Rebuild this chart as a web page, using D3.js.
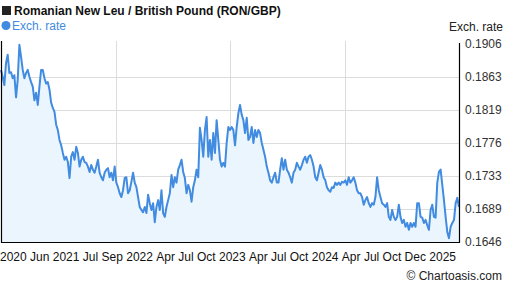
<!DOCTYPE html>
<html>
<head>
  <meta charset='utf-8'>
  <title>RON/GBP</title>
  <script src='https://cdn.jsdelivr.net/npm/d3@7'></script>
  <style>
    body { margin: 0; background: #fff; }
    text { font-family: 'Liberation Sans', Arial, sans-serif; }
  </style>
</head>
<body>
  <script type='text/javascript'>
    const title = 'Romanian New Leu / British Pound (RON/GBP)'
    const seriesName = 'Exch. rate'
    const yTicks = [0.1646, 0.1689, 0.1733, 0.1776, 0.1819, 0.1863, 0.1906]
    const xLabels = ['2020', 'Jun', '2021', 'Jul', 'Sep', '2022', 'Apr', 'Jul', 'Oct', '2023',
      'Apr', 'Jul', 'Oct', '2024', 'Apr', 'Jul', 'Oct', 'Dec', '2025']

    // RON/GBP, oldest first
    const rates2020_2022 = [
      .1872, .1863, .1852, .1881, .1892, .1868, .1869, .1861, .1865, .1836, .1859, .1905, .1889, .1872, .1861, .1868,
      .1872, .1863, .1856, .1850, .1832, .1842, .1826, .1850, .1872, .1872, .1861, .1854, .1856, .1846, .1829, .1822,
      .1817, .1800, .1793, .1780, .1773, .1763, .1754, .1758, .1751, .1730, .1758, .1764, .1754, .1771, .1763, .1745,
      .1754, .1758, .1751, .1750, .1745, .1738, .1747, .1741, .1737, .1745, .1754, .1737, .1731, .1727, .1737, .1741,
      .1743, .1731, .1737, .1727, .1745, .1724, .1718, .1710, .1705, .1714, .1730, .1731, .1710, .1714, .1725, .1737,
      .1724, .1718, .1705, .1692, .1688, .1685, .1692, .1684, .1708, .1697, .1688, .1697, .1672, .1692, .1701, .1688,
      .1714, .1684, .1679, .1692, .1701, .1710, .1734, .1718, .1731, .1724, .1741, .1747, .1754, .1738, .1730, .1710,
      .1721, .1714, .1699, .1718, .1727, .1741, .1731, .1796, .1780, .1758, .1793, .1810, .1758, .1780, .1754, .1789,
      .1763, .1806, .1780, .1754, .1745, .1750, .1745, .1776, .1797, .1793, .1797, .1793, .1773, .1797, .1815, .1826,
      .1813, .1806, .1789, .1809, .1780
    ]
    const rates2023_2025 = [
      .1784, .1797, .1776, .1793, .1784, .1793, .1789, .1776, .1767, .1758, .1745, .1737, .1727, .1724, .1731, .1737,
      .1724, .1724, .1741, .1756, .1741, .1754, .1741, .1737, .1731, .1724, .1737, .1741, .1750, .1745, .1741, .1747,
      .1754, .1758, .1750, .1758, .1760, .1754, .1745, .1731, .1727, .1737, .1747, .1741, .1731, .1727, .1718, .1714,
      .1712, .1718, .1717, .1724, .1721, .1724, .1721, .1725, .1724, .1727, .1721, .1731, .1724, .1727, .1731, .1724,
      .1714, .1710, .1710, .1705, .1695, .1701, .1705, .1697, .1692, .1697, .1695, .1705, .1731, .1714, .1705, .1697,
      .1695, .1692, .1697, .1679, .1675, .1688, .1679, .1675, .1679, .1695, .1679, .1671, .1675, .1666, .1671, .1662,
      .1671, .1666, .1671, .1666, .1697, .1697, .1679, .1678, .1671, .1675, .1668, .1662, .1688, .1695, .1679, .1678,
      .1724, .1738, .1741, .1721, .1701, .1679, .1659, .1651, .1666, .1671, .1675, .1697, .1704, .1692
    ]
    const rates = rates2020_2022.concat(rates2023_2025)

    const width = 507
    const height = 288
    const margin = { top: 41, right: 48, bottom: 46, left: 1 }
    const plotRight = width - margin.right
    const plotBottom = height - margin.bottom

    const svg = d3.select('body')
      .append('svg')
      .attr('width', width)
      .attr('height', height)

    const x = d3.scaleLinear()
      .domain([0, rates.length - 1])
      .range([margin.left, plotRight])
    const y = d3.scaleLinear()
      .domain([yTicks[0], yTicks[yTicks.length - 1]])
      .range([plotBottom, 44])

    // grid
    const grid = svg.append('g').attr('stroke', '#dcdcdc').attr('stroke-width', 1)
    grid.selectAll('line.h')
      .data(yTicks.slice(1, -1))
      .join('line')
      .attr('x1', margin.left).attr('x2', plotRight)
      .attr('y1', d => Math.round(y(d)) + 0.5).attr('y2', d => Math.round(y(d)) + 0.5)
    grid.selectAll('line.v')
      .data([1, 2, 3].map(i => (rates.length - 1) * i / 4))
      .join('line')
      .attr('x1', d => Math.round(x(d)) + 0.5).attr('x2', d => Math.round(x(d)) + 0.5)
      .attr('y1', margin.top).attr('y2', plotBottom)

    // area + line
    svg.append('path')
      .datum(rates)
      .attr('fill', '#ebf5fe')
      .attr('d', d3.area().x((d, i) => x(i)).y0(plotBottom).y1(d => y(d)))
    svg.append('path')
      .datum(rates)
      .attr('fill', 'none')
      .attr('stroke', '#418be0')
      .attr('stroke-width', 2)
      .attr('stroke-linejoin', 'round')
      .attr('d', d3.line().x((d, i) => x(i)).y(d => y(d)))

    // frame: left, bottom, right
    svg.append('path')
      .attr('fill', 'none')
      .attr('stroke', '#000')
      .attr('stroke-width', 1.2)
      .attr('d', `M${margin.left + 0.5},${margin.top}V${plotBottom + 0.5}H${plotRight + 0.5}V${margin.top + 2}`)

    // y axis labels
    svg.append('g')
      .selectAll('text')
      .data(yTicks)
      .join('text')
      .attr('x', plotRight + 6)
      .attr('y', d => y(d))
      .attr('dy', '0.32em')
      .attr('font-size', 12)
      .attr('fill', '#333')
      .text(d => d.toFixed(4))

    svg.append('text')
      .attr('x', 503).attr('y', 31)
      .attr('text-anchor', 'end')
      .attr('font-size', 12)
      .attr('fill', '#222')
      .text(seriesName)

    // x labels packed along the bottom
    const xl = svg.append('g')
      .selectAll('text')
      .data(xLabels)
      .join('text')
      .attr('y', 261)
      .attr('font-size', 12)
      .attr('fill', '#111')
      .text(d => d)
    const widths = xl.nodes().map(n => n.getComputedTextLength())
    const gap = (456 - d3.sum(widths)) / (xLabels.length - 1)
    let cx = 0
    xl.attr('x', (d, i) => { const p = cx; cx += widths[i] + gap; return p })

    // title + legend
    svg.append('rect')
      .attr('x', 2).attr('y', 6).attr('width', 9).attr('height', 9)
      .attr('fill', '#222')
    svg.append('text')
      .attr('x', 14).attr('y', 15)
      .attr('font-size', 12)
      .attr('font-weight', 'bold')
      .attr('fill', '#111')
      .text(title)
    svg.append('circle')
      .attr('cx', 6).attr('cy', 25.5).attr('r', 4.5)
      .attr('fill', '#418be0')
    svg.append('text')
      .attr('x', 12).attr('y', 30)
      .attr('font-size', 12)
      .attr('fill', '#418be0')
      .text(seriesName)

    svg.append('text')
      .attr('x', 502).attr('y', 280)
      .attr('text-anchor', 'end')
      .attr('font-size', 12)
      .attr('fill', '#222')
      .text('\u00a9 Chartoasis.com')
  </script>
</body>
</html>
